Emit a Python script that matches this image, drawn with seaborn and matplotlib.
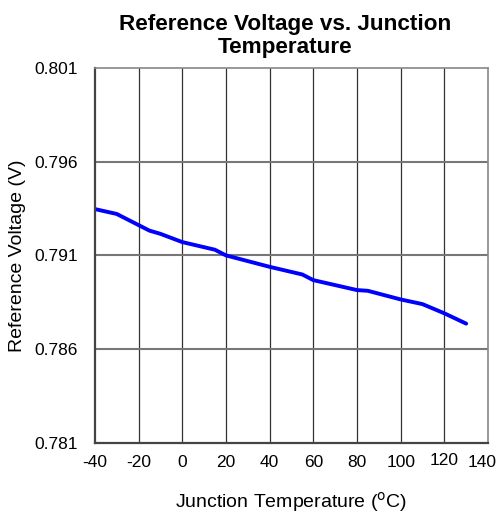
import matplotlib
matplotlib.use("Agg")
import matplotlib.pyplot as plt
import matplotlib.transforms as mtransforms
import seaborn as sns
import pandas as pd

temps = [-40, -30, -15, -10, 0, 15, 20, 40, 55, 60, 80, 85, 100, 110, 120, 130]
volts = [0.79347, 0.79321, 0.79232, 0.79215, 0.79171, 0.79130, 0.79100, 0.79039,
         0.78998, 0.78968, 0.78915, 0.78911, 0.78865, 0.78840, 0.78791, 0.78736]
x_ticks = [-40, -20, 0, 20, 40, 60, 80, 100, 120, 140]
y_ticks = [0.781, 0.786, 0.791, 0.796, 0.801]

sns.set_style("white")
plt.rcParams['font.family'] = ['Liberation Sans', 'DejaVu Sans']
plt.rcParams['text.color'] = 'black'
plt.rcParams['axes.labelcolor'] = 'black'
plt.rcParams['xtick.color'] = 'black'
plt.rcParams['ytick.color'] = 'black'

df = pd.DataFrame({"T": temps, "V": volts})

fig = plt.figure(figsize=(4.99, 5.18), dpi=100)
ax = fig.add_axes([0.19, 0.145, 0.788, 0.724])

sns.lineplot(data=df, x="T", y="V", ax=ax, color="#0000FF", linewidth=2.8)

ax.set_xlim(-40, 140)
ax.set_ylim(0.781, 0.801)
ax.set_xticks(x_ticks)
ax.set_yticks(y_ticks)
ax.set_xticklabels([str(t) for t in x_ticks], fontsize=12.5)
ax.set_yticklabels(["%.3f" % v for v in y_ticks], fontsize=12.5)
ax.tick_params(axis='x', length=0, pad=9)
ax.tick_params(axis='y', direction='in', length=4, width=1.2, color="#444444", pad=12)

# keep the last x tick label inside the figure, nudge 120 up slightly as in the reference
labels = ax.get_xticklabels()
labels[-1].set_transform(labels[-1].get_transform() +
                         mtransforms.ScaledTranslation(-6 / 100, 0, fig.dpi_scale_trans))
labels[-2].set_transform(labels[-2].get_transform() +
                         mtransforms.ScaledTranslation(0, 2 / 100, fig.dpi_scale_trans))

for t in x_ticks[1:-1]:
    ax.axvline(t, color="#333333", linewidth=0.9, zorder=0)
for v in y_ticks[1:-1]:
    ax.axhline(v, color="#777777", linewidth=1.5, zorder=0)

for s in ['left', 'bottom']:
    ax.spines[s].set_color("#444444")
    ax.spines[s].set_linewidth(1.6)
for s in ['top', 'right']:
    ax.spines[s].set_color("#888888")
    ax.spines[s].set_linewidth(1.2)

ax.set_xlabel("Junction Temperature ($^{\\mathrm{o}}$C)", fontsize=14, labelpad=14)
ax.set_ylabel("Reference Voltage (V)", fontsize=14, labelpad=6)
ax.set_title("Reference Voltage vs. Junction\nTemperature", fontsize=16.2,
             fontweight='bold', pad=11, linespacing=1.1, x=0.485)

fig.savefig("out.png", dpi=100)
